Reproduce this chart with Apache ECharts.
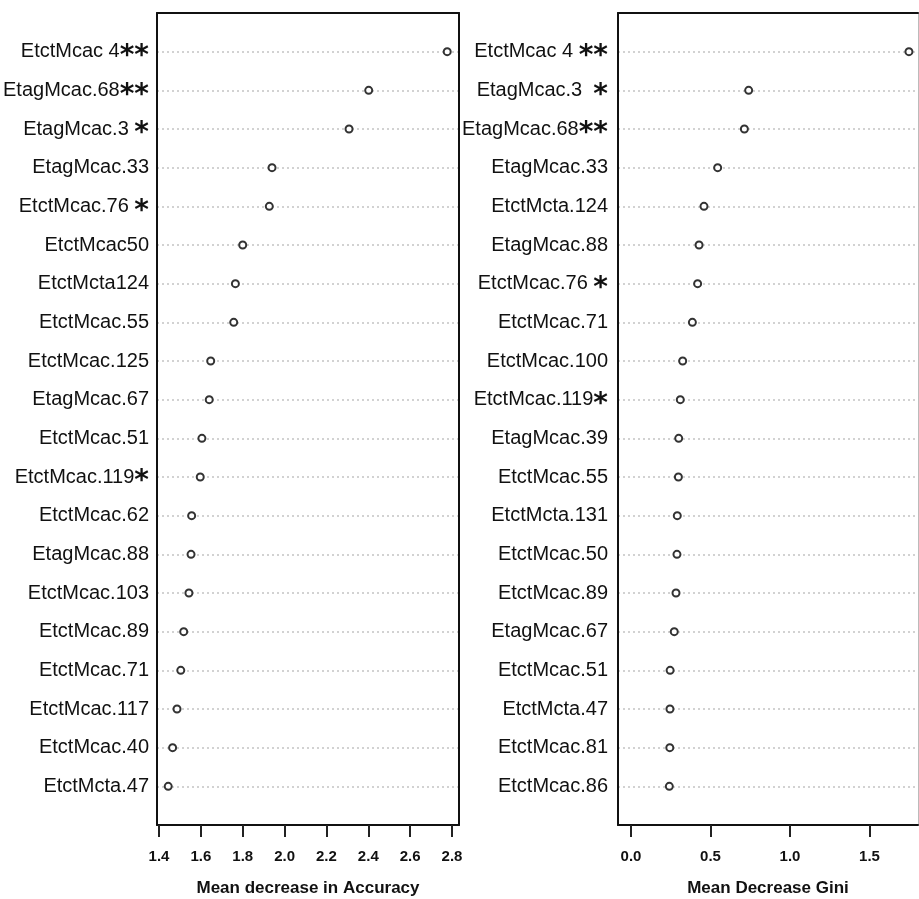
<!DOCTYPE html>
<html>
<head>
<meta charset="utf-8">
<script src="https://cdn.jsdelivr.net/npm/echarts@6/dist/echarts.min.js"></script>
<style>
html,body{margin:0;padding:0;background:#fff;}
#chart{width:919px;height:899px;}
</style>
</head>
<body>
<div id="chart"></div>
<script>
// Left panel: Mean decrease in Accuracy
const accNames = ['EtctMcac 4**','EtagMcac.68**','EtagMcac.3 *','EtagMcac.33','EtctMcac.76 *','EtctMcac50','EtctMcta124','EtctMcac.55','EtctMcac.125','EtagMcac.67','EtctMcac.51','EtctMcac.119*','EtctMcac.62','EtagMcac.88','EtctMcac.103','EtctMcac.89','EtctMcac.71','EtctMcac.117','EtctMcac.40','EtctMcta.47'];
const accValues = [2.777,2.402,2.308,1.94,1.927,1.8,1.765,1.757,1.647,1.64,1.605,1.597,1.556,1.553,1.543,1.518,1.504,1.486,1.465,1.444];
const accTicks = [1.4,1.6,1.8,2.0,2.2,2.4,2.6,2.8];

// Right panel: Mean Decrease Gini
const giniNames = ['EtctMcac 4 **','EtagMcac.3  *','EtagMcac.68**','EtagMcac.33','EtctMcta.124','EtagMcac.88','EtctMcac.76 *','EtctMcac.71','EtctMcac.100','EtctMcac.119*','EtagMcac.39','EtctMcac.55','EtctMcta.131','EtctMcac.50','EtctMcac.89','EtagMcac.67','EtctMcac.51','EtctMcta.47','EtctMcac.81','EtctMcac.86'];
const giniValues = [1.748,0.74,0.713,0.545,0.459,0.428,0.419,0.386,0.325,0.31,0.3,0.298,0.291,0.289,0.283,0.272,0.246,0.245,0.244,0.241];
const giniTicks = [0.0,0.5,1.0,1.5];

const chart = echarts.init(document.getElementById('chart'), null, {renderer:'canvas'});

function labelFmt(names){
  return function(v){
    const i = Math.round(v);
    if (i < 0 || i >= names.length) return '';
    const s = names[i];
    const k = s.indexOf('*');
    if (k < 0) return '{n|' + s + '}';
    return '{n|' + s.slice(0,k) + '}{s|' + s.slice(k) + '}';
  };
}
const rich = {
  n:{fontFamily:'Liberation Sans, Arial, sans-serif', fontSize:20, color:'#111'},
  s:{fontFamily:'DejaVu Sans, sans-serif', fontSize:28, fontWeight:'bold', color:'#111', padding:[10,0,0,0]}
};
const tickFont = {fontFamily:'Liberation Sans, Arial, sans-serif', fontWeight:'bold', fontSize:15, color:'#111'};
const nameFont = {fontFamily:'Liberation Sans, Arial, sans-serif', fontWeight:'bold', fontSize:17, color:'#111'};

function yAxisFor(gridIndex, names, margin){
  return {
    type:'value', gridIndex, inverse:true, min:-1, max:names.length, interval:1,
    axisLine:{show:true, onZero:false, lineStyle:{color:'#111', width:2}},
    axisTick:{show:false},
    axisLabel:{formatter:labelFmt(names), rich, margin, align:'right'},
    splitLine:{show:true, showMinLine:false, showMaxLine:false, lineStyle:{type:[2,3], color:'#c4c4c4', width:1.5}}
  };
}
function xAxisFor(gridIndex, min, max, ticks, name){
  return {
    type:'value', gridIndex, min, max, position:'bottom',
    name, nameLocation:'middle', nameGap:55, nameTextStyle:nameFont,
    axisLine:{show:true, onZero:false, lineStyle:{color:'#111', width:2}},
    axisTick:{show:true, customValues:ticks, length:12, lineStyle:{color:'#222', width:2}},
    axisLabel:{show:true, customValues:ticks, formatter:(v)=>v.toFixed(1), margin:24, ...tickFont},
    splitLine:{show:false}
  };
}
function topAxis(gridIndex, min, max){
  return {type:'value', gridIndex, min, max, position:'top',
    axisLine:{show:true, onZero:false, lineStyle:{color:'#111', width:2}},
    axisTick:{show:false}, axisLabel:{show:false}, splitLine:{show:false}};
}
function sideAxis(gridIndex, n, color, width){
  return {type:'value', gridIndex, inverse:true, min:-1, max:n, position:'right',
    axisLine:{show:true, onZero:false, lineStyle:{color, width}},
    axisTick:{show:false}, axisLabel:{show:false}, splitLine:{show:false}};
}

const option = {
  animation:false,
  backgroundColor:'#fff',
  grid:[
    {left:157, top:13, width:302, height:812, show:false, containLabel:false, outerBoundsMode:'none'},
    {left:618, top:13, width:300, height:812, show:false, containLabel:false, outerBoundsMode:'none'}
  ],
  xAxis:[
    xAxisFor(0, 1.3904, 2.8334, accTicks, 'Mean decrease in Accuracy'),
    xAxisFor(1, -0.0818, 1.805, giniTicks, 'Mean Decrease Gini'),
    topAxis(0, 1.3904, 2.8334),
    topAxis(1, -0.0818, 1.805)
  ],
  yAxis:[
    yAxisFor(0, accNames, 8),
    yAxisFor(1, giniNames, 10),
    sideAxis(0, accNames.length, '#111', 2),
    sideAxis(1, giniNames.length, '#bbb', 1)
  ],
  series:[
    {type:'scatter', xAxisIndex:0, yAxisIndex:0,
     data:accValues.map((v,i)=>[v,i]),
     symbol:'circle', symbolSize:7,
     itemStyle:{color:'#fff', borderColor:'#333', borderWidth:2, opacity:1}},
    {type:'scatter', xAxisIndex:1, yAxisIndex:1,
     data:giniValues.map((v,i)=>[v,i]),
     symbol:'circle', symbolSize:7,
     itemStyle:{color:'#fff', borderColor:'#333', borderWidth:2, opacity:1}}
  ]
};
chart.setOption(option);
</script>
</body>
</html>
